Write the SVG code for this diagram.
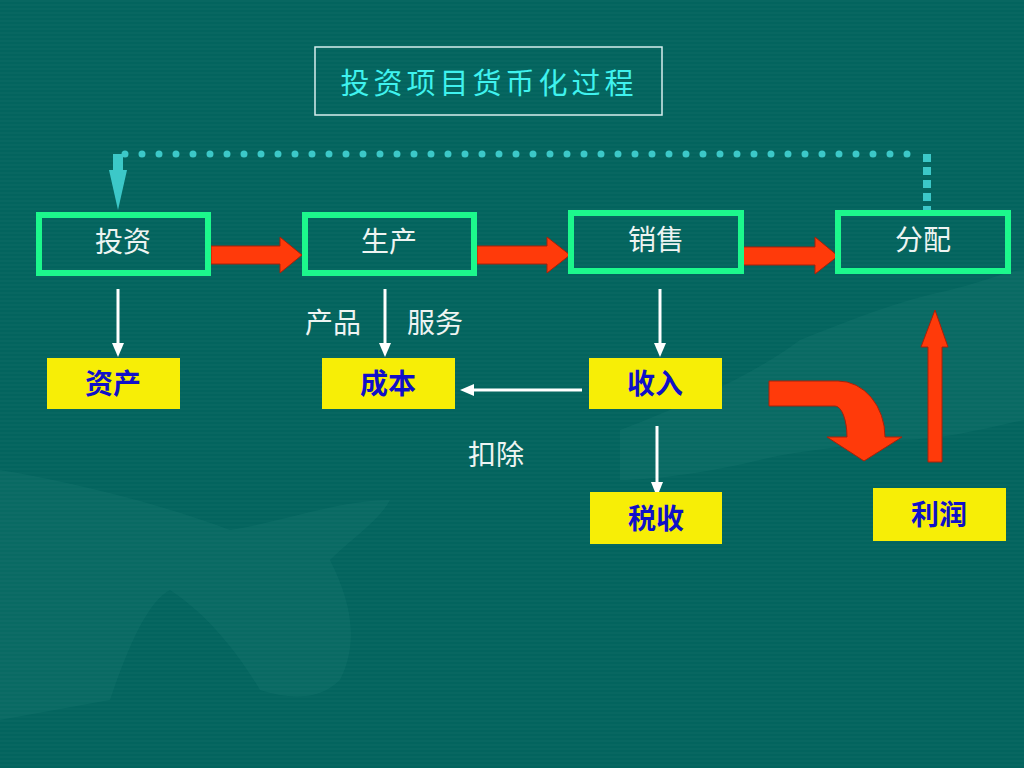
<svg xmlns="http://www.w3.org/2000/svg" width="1024" height="768" viewBox="0 0 1024 768">
<defs>
<style>
.bg{fill:#03645e}
.gbox{fill:none;stroke:#1cf88c;stroke-width:6}
.ybox{fill:#f7ee06}
.wt{font-family:"Noto Sans CJK SC","Noto Sans CJK TC",sans-serif;font-size:28px;fill:#eef4f2;text-anchor:middle}
.yt{font-family:"Noto Sans CJK SC","Noto Sans CJK TC",sans-serif;font-size:28px;font-weight:bold;fill:#1010c8;text-anchor:middle}
.red{fill:#ff3a0a;stroke:#a8200a;stroke-width:1}
.wline{stroke:#ffffff;stroke-width:3;fill:none}
.wah{fill:#ffffff}
</style>
<pattern id="stripes" width="4" height="4" patternUnits="userSpaceOnUse">
<rect width="4" height="2" fill="#ffffff" fill-opacity="0.02"/>
</pattern>
</defs>
<rect class="bg" x="0" y="0" width="1024" height="768"/>
<rect x="0" y="0" width="1024" height="768" fill="url(#stripes)"/>
<!-- faint background hands -->
<g id="background-hands" fill="#4fa8a0" fill-opacity="0.09">
<path d="M0,470 C60,480 150,500 230,530 C290,520 340,500 390,500 C380,520 350,540 330,560 C350,600 360,640 340,680 C320,700 290,700 260,690 C230,640 200,610 170,590 C150,600 130,640 110,700 L0,720 Z"/>
<path d="M620,430 C700,400 760,370 800,340 C850,320 900,300 950,290 C990,280 1010,270 1024,270 L1024,420 C980,430 940,440 900,440 C860,445 800,450 760,460 C720,470 660,480 620,480 Z"/>
</g>
<!-- title -->
<g id="title">
<rect x="315" y="47" width="347" height="68" fill="none" stroke="#d8eeee" stroke-width="1.5"/>
<text x="489" y="94" font-family="'Noto Sans CJK SC','Noto Sans CJK TC',sans-serif" font-size="29" fill="#3ff2ee" text-anchor="middle" letter-spacing="4">投资项目货币化过程</text>
</g>
<!-- connectors -->
<g id="connectors">
<!-- dotted feedback loop -->
<line x1="125" y1="154" x2="912" y2="154" stroke="#3cc8c8" stroke-width="7" stroke-linecap="round" stroke-dasharray="0 17"/>
<line x1="927" y1="154" x2="927" y2="211" stroke="#3cc8c8" stroke-width="8" stroke-dasharray="8 5"/>
<rect x="113" y="154" width="10" height="18" fill="#3cc8c8"/>
<path d="M109,170 L127,170 L118,210 Z" fill="#3cc8c8"/>
<!-- red flow arrows -->
<path class="red" d="M211,246 H280 V237 L302,255 L280,273 V264 H211 Z"/>
<path class="red" d="M477,246 H547 V237 L570,255 L547,273 V264 H477 Z"/>
<path class="red" d="M741,247 H815 V237 L838,256 L815,274 V265 H741 Z"/>
<!-- white arrows -->
<line class="wline" x1="118" y1="289" x2="118" y2="345"/>
<path class="wah" d="M112,343 L124,343 L118,357 Z"/>
<line class="wline" x1="385" y1="289" x2="385" y2="345"/>
<path class="wah" d="M379,343 L391,343 L385,357 Z"/>
<line class="wline" x1="660" y1="289" x2="660" y2="345"/>
<path class="wah" d="M654,343 L666,343 L660,357 Z"/>
<line class="wline" x1="657" y1="426" x2="657" y2="484"/>
<path class="wah" d="M651,482 L663,482 L657,497 Z"/>
<line class="wline" x1="582" y1="390" x2="472" y2="390"/>
<path class="wah" d="M474,384 L474,396 L460,390 Z"/>
<!-- curved red arrow -->
<path class="red" d="M769,381 H838 A47,56 0 0 1 885,437 H902 L864,461 L827,437 H847 A12,31 0 0 0 835,406 H769 Z"/>
<!-- red up arrow -->
<path class="red" d="M928,462 V347 H921 L935,310 L948,347 H942 V462 Z"/>
</g>
<!-- process nodes -->
<g id="node-touzi"><rect class="gbox" x="39" y="215" width="169" height="58"/><text class="wt" x="123" y="252">投资</text></g>
<g id="node-shengchan"><rect class="gbox" x="305" y="215" width="169" height="58"/><text class="wt" x="389" y="252">生产</text></g>
<g id="node-xiaoshou"><rect class="gbox" x="571" y="213" width="170" height="58"/><text class="wt" x="656" y="250">销售</text></g>
<g id="node-fenpei"><rect class="gbox" x="838" y="213" width="170" height="58"/><text class="wt" x="923" y="250">分配</text></g>
<!-- result nodes -->
<g id="node-zichan"><rect class="ybox" x="47" y="358" width="133" height="51"/><text class="yt" x="113" y="394">资产</text></g>
<g id="node-chengben"><rect class="ybox" x="322" y="358" width="133" height="51"/><text class="yt" x="388" y="394">成本</text></g>
<g id="node-shouru"><rect class="ybox" x="589" y="358" width="133" height="51"/><text class="yt" x="655" y="394">收入</text></g>
<g id="node-shuishou"><rect class="ybox" x="590" y="492" width="132" height="52"/><text class="yt" x="656" y="529">税收</text></g>
<g id="node-lirun"><rect class="ybox" x="873" y="488" width="133" height="53"/><text class="yt" x="939" y="525">利润</text></g>
<!-- labels -->
<g id="labels">
<text class="wt" x="333" y="333">产品</text>
<text class="wt" x="435" y="333">服务</text>
<text class="wt" x="496" y="465">扣除</text>
</g>
</svg>
